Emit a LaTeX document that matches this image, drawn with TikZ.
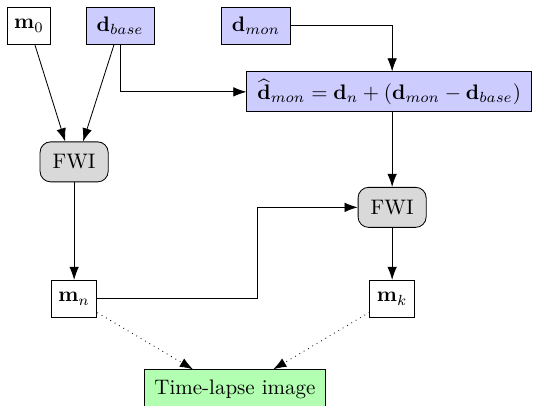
\documentclass[tikz,border=0pt]{standalone}
\usepackage{amsmath,amssymb}
\usetikzlibrary{arrows.meta}

\begin{document}
\begin{tikzpicture}[auto,>={Latex[length=2.2mm,width=1.6mm]},
	databox/.style={draw,rectangle,fill=blue!20,minimum height=0.62cm,inner xsep=5pt},
	modelbox/.style={draw,rectangle,fill=white,minimum height=0.62cm},
	fwibox/.style={draw,rectangle,rounded corners=5pt,fill=gray!30,inner sep=6pt},
	imagebox/.style={draw,rectangle,fill=green!30,minimum height=0.64cm,inner sep=4.5pt}]
\useasboundingbox (0,0) rectangle (8.95,6.79);
% inputs
\node[modelbox] (m0) at (0.485,6.357) {$\mathbf{m}_0$};
\node[databox] (dbase) at (2.008,6.357) {$\mathbf{d}_{base}$};
\node[databox] (dmon) at (4.283,6.357) {$\mathbf{d}_{mon}$};
\node[databox] (dhat) at (6.51,5.253) {$\widehat{\mathbf{d}}_{mon} = \mathbf{d}_n + (\mathbf{d}_{mon} - \mathbf{d}_{base})$};
% inversions
\node[fwibox] (fwibase) at (1.24,4.082) {FWI};
\node[fwibox] (fwimon) at (6.56,3.321) {FWI};
% models
\node[modelbox] (mn) at (1.24,1.790) {$\mathbf{m}_n$};
\node[modelbox] (mk) at (6.56,1.790) {$\mathbf{m}_k$};
\node[imagebox] (image) at (3.93,0.284) {Time-lapse image};

\draw[->] (m0) -- ([xshift=-0.15cm]fwibase.north);
\draw[->] (dbase) -- ([xshift=0.15cm]fwibase.north);
\draw[->] (dbase.south) |- (dhat.west);
\draw[->] (dmon.east) -| (dhat.north -| fwimon);
\draw[->] (dhat.south -| fwimon) -- (fwimon.north);
\draw[->] (fwibase.south) -- (mn.north);
\draw[->] (mn.east) -- ++(2.68,0) |- (fwimon.west);
\draw[->] (fwimon.south) -- (mk.north);
\draw[->,dotted] (mn) -- ([xshift=-0.70cm]image.north);
\draw[->,dotted] (mk) -- ([xshift=0.64cm]image.north);
\end{tikzpicture}
\end{document}
